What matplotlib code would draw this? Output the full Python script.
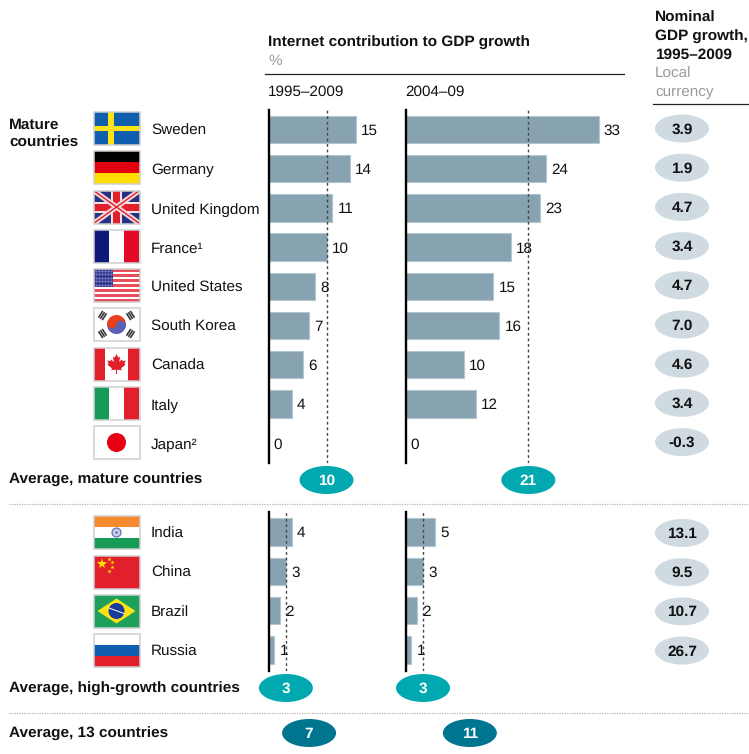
import matplotlib
matplotlib.use("Agg")
import matplotlib.pyplot as plt
from matplotlib.patches import Rectangle, Ellipse, Circle, Wedge, Polygon

plt.rcParams['font.family'] = ['Liberation Sans', 'DejaVu Sans']
plt.rcParams['text.hinting'] = 'no_hinting'

# Data
mature = ["Sweden", "Germany", "United Kingdom", "France¹", "United States",
          "South Korea", "Canada", "Italy", "Japan²"]
mature_long = [15, 14, 11, 10, 8, 7, 6, 4, 0]
mature_recent = [33, 24, 23, 18, 15, 16, 10, 12, 0]
mature_gdp = ["3.9", "1.9", "4.7", "3.4", "4.7", "7.0", "4.6", "3.4", "-0.3"]

growth = ["India", "China", "Brazil", "Russia"]
growth_long = [4, 3, 2, 1]
growth_recent = [5, 3, 2, 1]
growth_gdp = ["13.1", "9.5", "10.7", "26.7"]

avg_mature = [10, 21]
avg_growth = [3, 3]
avg_all = [7, 11]

W, H = 749, 754
SCALE_LONG = 5.8
SCALE_RECENT = 5.85
LEFT_X, RIGHT_X = 268.5, 405.5
BAR = "#87a2b0"
TEAL = "#00a9b0"
DARK_TEAL = "#00758f"
PILL = "#d0dbe1"
GREY = "#9a9a9a"
FS = 11
FS_BOLD = 11.05

fig = plt.figure(figsize=(W / 100, H / 100), dpi=100)


def panel(x0, x1, y0, y1, first_row, spacing, scale, labels, values, avg):
    ax = fig.add_axes([x0 / W, 1 - y1 / H, (x1 - x0) / W, (y1 - y0) / H])
    ax.set_xlim(0, (x1 - x0) / scale)
    ax.set_ylim((y1 - first_row) / spacing, (y0 - first_row) / spacing)
    rows = range(len(labels))
    ax.barh(rows, values, height=0.7, color=BAR, edgecolor="#b4c6cf", linewidth=0.8, zorder=2)
    ax.axvline(avg, color="#444444", lw=1, dashes=(2, 2), zorder=3)
    for r, v in zip(rows, values):
        ax.annotate(str(v), (v, r), xytext=(3.8, -1), textcoords="offset points",
                    va="center", ha="left", fontsize=FS, color="#111111")
    for s in ["top", "right", "bottom"]:
        ax.spines[s].set_visible(False)
    ax.spines["left"].set_linewidth(1.7)
    ax.set_xticks([])
    ax.set_yticks([])
    ax.patch.set_alpha(0)
    return ax


panel(LEFT_X, 395, 110, 463, 129.5, 39.2, SCALE_LONG, mature, mature_long, avg_mature[0])
panel(RIGHT_X, 625, 110, 463, 129.5, 39.2, SCALE_RECENT, mature, mature_recent, avg_mature[1])
panel(LEFT_X, 395, 512, 671, 532, 39.3, SCALE_LONG, growth, growth_long, avg_growth[0])
panel(RIGHT_X, 625, 512, 671, 532, 39.3, SCALE_RECENT, growth, growth_recent, avg_growth[1])

# Overlay in pixel coordinates for headers, flags and pills
ov = fig.add_axes([0, 0, 1, 1], zorder=3)
ov.set_xlim(0, W)
ov.set_ylim(H, 0)
ov.axis("off")


def label(x, y, s, **kw):
    kw.setdefault("fontsize", FS_BOLD if kw.get("fontweight") == "bold" else FS)
    kw.setdefault("color", "#111111")
    ov.text(x, y + 1.2, s, va="center", ha="left", **kw)


def pill(x, y, s, fc, tc, w=54, h=28):
    ov.add_patch(Ellipse((x, y), w, h, fc=fc, ec="none", zorder=4))
    ov.text(x, y + 1, s, ha="center", va="center", fontsize=FS_BOLD, fontweight="bold", color=tc, zorder=5)


# Headers
label(268, 42, "Internet contribution to GDP growth", fontweight="bold")
label(268, 60, "%", color=GREY)
ov.plot([265, 624], [74, 74], color="#222222", lw=0.9)
label(268, 91, "1995–2009")
label(405, 91, "2004–09")
label(655, 17, "Nominal", fontweight="bold")
label(655, 36, "GDP growth,", fontweight="bold")
label(655, 54, "1995–2009", fontweight="bold")
label(655, 73, "Local", color=GREY)
label(655, 91, "currency", color=GREY)
ov.plot([653, 749], [104, 104], color="#222222", lw=0.9)

label(9, 124, "Mature", fontweight="bold")
label(9, 142, "countries", fontweight="bold")

# Country names and GDP pills
for i, (name, g) in enumerate(zip(mature, mature_gdp)):
    label(151, 130 + i * 39.2, name)
    pill(682, 128.5 + i * 39.2, g, PILL, "#111111")
for i, (name, g) in enumerate(zip(growth, growth_gdp)):
    label(151, 533 + i * 39.2, name)
    pill(682, 533 + i * 39.2, g, PILL, "#111111")

# Averages
label(9, 479, "Average, mature countries", fontweight="bold")
label(9, 688, "Average, high-growth countries", fontweight="bold")
label(9, 733, "Average, 13 countries", fontweight="bold")
for x0, s, a, b, c in zip([LEFT_X, RIGHT_X], [SCALE_LONG, SCALE_RECENT], avg_mature, avg_growth, avg_all):
    pill(x0 + a * s, 480, str(a), TEAL, "white")
    pill(x0 + b * s, 688, str(b), TEAL, "white")
    pill(x0 + c * s, 733, str(c), DARK_TEAL, "white")

for y in [503.5, 712.5]:
    ov.plot([9, 749], [y, y], color="#b5b5b5", lw=0.9, dashes=(1, 1))


# Flags, each drawn inside a 46x33 box
def rect(x, y, w, h, c):
    p = Rectangle((x, y), w, h, fc=c, ec="none")
    ov.add_patch(p)
    return p


def border(x, y):
    ov.add_patch(Rectangle((x, y), 46, 33, fc="none", ec="#d0d0d0", lw=1.1, zorder=3))


def flag_sweden(x, y):
    rect(x, y, 46, 33, "#0f5fae")
    rect(x + 14.5, y, 5.5, 33, "#fde311")
    rect(x, y + 13.5, 46, 5.5, "#fde311")


def flag_germany(x, y):
    for i, c in enumerate(["#000000", "#e2000f", "#ffdd00"]):
        rect(x, y + i * 11, 46, 11, c)


def flag_uk(x, y):
    bg = rect(x, y, 46, 33, "#27317f")
    for lw, c in [(3.8, "#f4d9dc"), (1.0, "#e2202c")]:
        for ys in [(y, y + 33), (y + 33, y)]:
            ln, = ov.plot([x, x + 46], ys, color=c, lw=lw, solid_capstyle="butt")
            ln.set_clip_path(bg)
    rect(x + 17.5, y, 11, 33, "#f6e4e4")
    rect(x, y + 11, 46, 11, "#f6e4e4")
    rect(x + 19.5, y, 7, 33, "#e2202c")
    rect(x, y + 13, 46, 7, "#e2202c")


def flag_tricolour(x, y, cols):
    for i, c in enumerate(cols):
        rect(x + i * 15.33, y, 15.33, 33, c)


def flag_us(x, y):
    rect(x, y, 46, 33, "white")
    for i in range(0, 13, 2):
        rect(x, y + i * 33 / 13, 46, 33 / 13, "#e8505f")
    rect(x, y, 19, 18, "#2f3390")
    for r in range(5):
        for c in range(6):
            ov.plot(x + 2 + c * 3, y + 2 + r * 3.4, ".", color="#8f92c8", ms=1)


def flag_korea(x, y):
    rect(x, y, 46, 33, "white")
    cx, cy = x + 23, y + 16.5
    ov.add_patch(Wedge((cx, cy), 9.5, 190, 10, fc="#e8401c", ec="none"))
    ov.add_patch(Wedge((cx, cy), 9.5, 10, 190, fc="#5b5fb5", ec="none"))
    ov.add_patch(Circle((cx - 4.7, cy - 0.8), 4.7, fc="#e8401c", ec="none"))
    ov.add_patch(Circle((cx + 4.7, cy + 0.8), 4.7, fc="#5b5fb5", ec="none"))
    # Corner trigrams, y points down on this axes
    for dx, dy in [(-14, -9), (14, -9), (-14, 9), (14, 9)]:
        for k in (-2.2, 0, 2.2):
            nx, ny = dx / 16.6, dy / 16.6
            px, py = cx + dx + k * nx, cy + dy + k * ny
            ov.plot([px - 4 * ny, px + 4 * ny], [py + 4 * nx, py - 4 * nx],
                    color="#3a3a3a", lw=1.2, solid_capstyle="butt")


def flag_canada(x, y):
    rect(x, y, 46, 33, "white")
    red = "#e2202c"
    rect(x, y, 11.5, 33, red)
    rect(x + 34.5, y, 11.5, 33, red)
    leaf = [(0, -10), (2, -6), (4, -7), (3, -1), (6, -4), (7, -2), (10, -3), (9, 1), (10, 2),
            (5, 6), (6, 8), (0.6, 7.5), (0.6, 12), (-0.6, 12), (-0.6, 7.5), (-6, 8), (-5, 6),
            (-10, 2), (-9, 1), (-10, -3), (-7, -2), (-6, -4), (-3, -1), (-4, -7), (-2, -6)]
    ov.add_patch(Polygon([(x + 23 + a * 0.9, y + 15.5 + b * 0.9) for a, b in leaf], fc=red, ec="none"))


def flag_japan(x, y):
    rect(x, y, 46, 33, "white")
    ov.add_patch(Circle((x + 23, y + 16.5), 9.5, fc="#e60012", ec="none"))


def flag_india(x, y):
    for i, c in enumerate(["#f58a2e", "white", "#169b57"]):
        rect(x, y + i * 11, 46, 11, c)
    ov.add_patch(Circle((x + 23, y + 16.5), 4.5, fc="#c8cce6", ec="#5c67a8", lw=0.8))
    ov.add_patch(Circle((x + 23, y + 16.5), 1.2, fc="#5c67a8", ec="none"))


def flag_china(x, y):
    rect(x, y, 46, 33, "#e2202c")
    ov.plot(x + 8, y + 8, "*", color="#ffde00", ms=8, mew=0)
    for a, b in [(15, 3), (18, 6.5), (18, 11), (15, 15)]:
        ov.plot(x + a, y + b, "*", color="#ffde00", ms=3.2, mew=0)


def flag_brazil(x, y):
    rect(x, y, 46, 33, "#1fa05a")
    ov.add_patch(Polygon([(x + 4, y + 16.5), (x + 23, y + 4), (x + 42, y + 16.5), (x + 23, y + 29)],
                         fc="#fde311", ec="none"))
    ov.add_patch(Circle((x + 23, y + 16.5), 8, fc="#1a3a9c", ec="none"))
    ov.plot([x + 15.5, x + 30.5], [y + 13.5, y + 19], color="white", lw=0.7)


def flag_russia(x, y):
    for i, c in enumerate(["white", "#0f5fae", "#e2202c"]):
        rect(x, y + i * 11, 46, 11, c)


flags = [
    (flag_sweden, 112), (flag_germany, 151), (flag_uk, 190.5),
    (lambda x, y: flag_tricolour(x, y, ["#0d1a78", "white", "#e30a27"]), 230),
    (flag_us, 269), (flag_korea, 308), (flag_canada, 347.5),
    (lambda x, y: flag_tricolour(x, y, ["#169b57", "white", "#e2202c"]), 386.5),
    (flag_japan, 426), (flag_india, 516), (flag_china, 555.5),
    (flag_brazil, 594.5), (flag_russia, 634),
]
for draw, top in flags:
    draw(93.5, top)
    border(93.5, top)

fig.savefig("out.png", dpi=100)
